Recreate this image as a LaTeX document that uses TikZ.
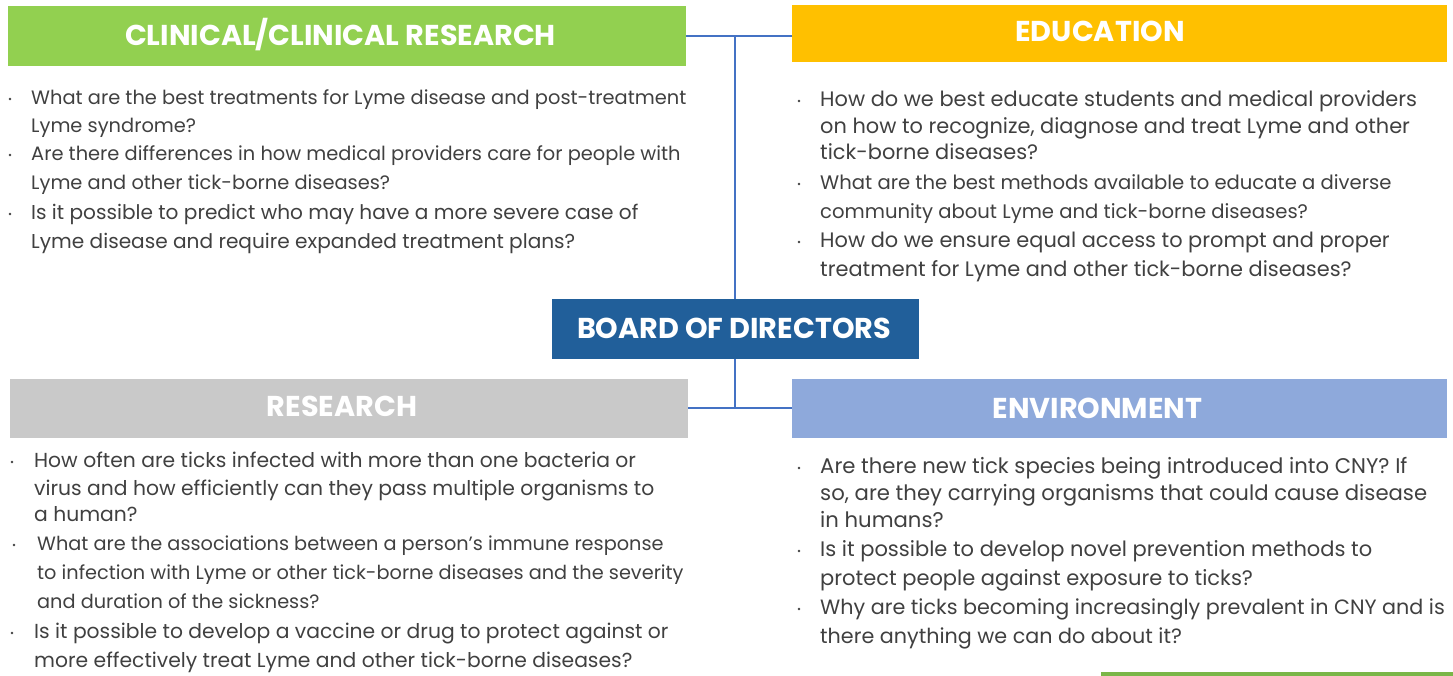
\documentclass[tikz,border=0pt]{standalone}
\usepackage{fontspec}
\setmainfont{Poppins}
\definecolor{cgreen}{HTML}{92D050}
\definecolor{cyellow}{HTML}{FFC000}
\definecolor{cboard}{HTML}{215F9A}
\definecolor{cgray}{HTML}{C9C9C9}
\definecolor{cblue}{HTML}{8EA9DB}
\definecolor{cline}{HTML}{4472C4}
\definecolor{ctext}{HTML}{404040}
\definecolor{cbar}{HTML}{7AB648}
\begin{document}
\begin{tikzpicture}[x=1pt,y=-1pt,
 box/.style={inner sep=0pt, draw=none},
 hdr/.style={inner sep=0pt, text=white, font=\fontsize{28.7}{31}\selectfont\bfseries},
 ln/.style={anchor=base west, inner sep=0pt, yshift=-1.5pt, text=ctext, font=\fontsize{#1}{22}\selectfont},
 ln/.default=19.5,
 bul/.style={circle, fill=ctext, inner sep=0pt, minimum size=2.6pt},
 conn/.style={draw=cline, line width=1.6pt}]
\useasboundingbox (0,0) rectangle (1453,676);

% boxes
\node[box, fill=cgreen, minimum width=678pt, minimum height=60pt] (clin) at (347,36) {};
\node[box, fill=cyellow, minimum width=655pt, minimum height=57pt] (edu) at (1119.5,33.5) {};
\node[box, fill=cboard, minimum width=367pt, minimum height=60pt] (board) at (735,329) {};
\node[box, fill=cgray, minimum width=678pt, minimum height=59pt] (res) at (349,408) {};
\node[box, fill=cblue, minimum width=655pt, minimum height=59pt] (env) at (1119.5,408.5) {};

% header texts
\node[hdr] (clint) at (340.5,35) {CLINICAL/CLINICAL RESEARCH};
\node[hdr] (edut) at (1100,31.5) {EDUCATION};
\node[hdr] (boardt) at (734,328.5) {BOARD OF DIRECTORS};
\node[hdr] (rest) at (342,406.5) {RESEARCH};
\node[hdr] (envt) at (1097.5,408) {ENVIRONMENT};

% connectors
\coordinate (jt) at (735,36);
\coordinate (jb) at (735,408);
\draw[conn] (clin.east |- jt) -- (jt) -- (edu.west |- jt);
\draw[conn] (jt) -- (board.north);
\draw[conn] (res.east |- jb) -- (jb) -- (env.west |- jb);
\draw[conn] (board.south) -- (jb);

% clinical
\node[bul] (cb1) at (10,99) {};
\node[bul] (cb2) at (10,155) {};
\node[bul] (cb3) at (10,214) {};
\node[ln=19.4] (c1) at (31,103) {What are the best treatments for Lyme disease and post-treatment};
\node[ln=19.4] (c2) at (31,131) {Lyme syndrome?};
\node[ln=19.4] (c3) at (31,159) {Are there differences in how medical providers care for people with};
\node[ln=19.4] (c4) at (31,188) {Lyme and other tick-borne diseases?};
\node[ln=20.1] (c5) at (31,218) {Is it possible to predict who may have a more severe case of};
\node[ln=20.1] (c6) at (31,247) {Lyme disease and require expanded treatment plans?};

% education
\node[bul] (eb1) at (799,101) {};
\node[bul] (eb2) at (799,184) {};
\node[bul] (eb3) at (799,242) {};
\node[ln=20.9] (e1) at (820,105) {How do we best educate students and medical providers};
\node[ln=20.9] (e2) at (820,132) {on how to recognize, diagnose and treat Lyme and other};
\node[ln=20.9] (e3) at (820,158) {tick-borne diseases?};
\node[ln=19.6] (e4) at (820,188) {What are the best methods available to educate a diverse};
\node[ln=19.6] (e5) at (820,217) {community about Lyme and tick-borne diseases?};
\node[ln=20.9] (e6) at (820,246) {How do we ensure equal access to prompt and proper};
\node[ln=20.9] (e7) at (820,275) {treatment for Lyme and other tick-borne diseases?};

% research
\node[bul] (rb1) at (12,462) {};
\node[bul] (rb2) at (14,545) {};
\node[bul] (rb3) at (12,633) {};
\node[ln=20.3] (r1) at (34,466) {How often are ticks infected with more than one bacteria or};
\node[ln=20.3] (r2) at (34,494) {virus and how efficiently can they pass multiple organisms to};
\node[ln=20.3] (r3) at (34,520) {a human?};
\node[ln=19.3] (r4) at (37,549) {What are the associations between a person's immune response};
\node[ln=19.3] (r5) at (37,578) {to infection with Lyme or other tick-borne diseases and the severity};
\node[ln=19.3] (r6) at (37,607) {and duration of the sickness?};
\node[ln=20.3] (r7) at (34,637) {Is it possible to develop a vaccine or drug to protect against or};
\node[ln=20.3] (r8) at (34,666) {more effectively treat Lyme and other tick-borne diseases?};

% environment
\node[bul] (vb1) at (799,468) {};
\node[bul] (vb2) at (799,551) {};
\node[bul] (vb3) at (799,609) {};
\node[ln=21.2] (v1) at (820,472) {Are there new tick species being introduced into CNY? If};
\node[ln=21.2] (v2) at (820,499) {so, are they carrying organisms that could cause disease};
\node[ln=21.2] (v3) at (820,526) {in humans?};
\node[ln=21.0] (v4) at (820,555) {Is it possible to develop novel prevention methods to};
\node[ln=21.0] (v5) at (820,584) {protect people against exposure to ticks?};
\node[ln=20.7] (v6) at (820,613) {Why are ticks becoming increasingly prevalent in CNY and is};
\node[ln=20.7] (v7) at (820,642) {there anything we can do about it?};

% bottom bar
\fill[cbar] (1101,672) rectangle (1453,676);
\end{tikzpicture}
\end{document}
